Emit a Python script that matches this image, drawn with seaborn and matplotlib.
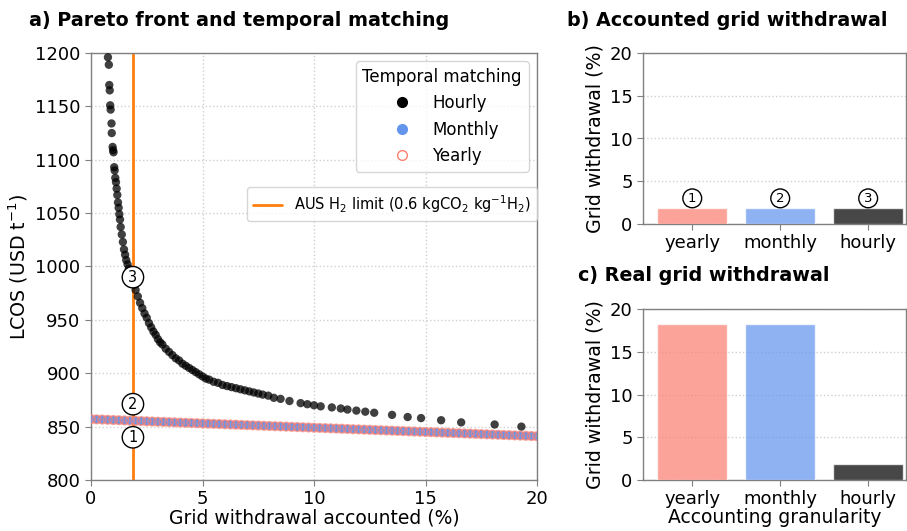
import numpy as np
import pandas as pd
import matplotlib
matplotlib.use('Agg')
import matplotlib.pyplot as plt
import seaborn as sns
from matplotlib.lines import Line2D

sns.set_style('ticks')
plt.rcParams['font.family'] = ['DejaVu Sans']
plt.rcParams['font.size'] = 13
plt.rcParams['text.color'] = 'black'
plt.rcParams['axes.labelcolor'] = 'black'
plt.rcParams['xtick.labelcolor'] = 'black'
plt.rcParams['ytick.labelcolor'] = 'black'

# Pareto front, hourly matching (grid withdrawal %, LCOS USD/t)
hourly_x = [0.76, 0.80, 0.82, 0.84, 0.86, 0.88, 0.92, 0.93, 0.97, 0.99, 1.01, 1.04, 1.06,
            1.09, 1.12, 1.15, 1.18, 1.21, 1.24, 1.27, 1.30, 1.33, 1.38, 1.43, 1.48, 1.53,
            1.58, 1.64, 1.70, 1.76, 1.82, 1.88, 1.95, 2.0, 2.1, 2.2, 2.3, 2.4, 2.5, 2.6,
            2.7, 2.8, 2.9, 3.0, 3.1, 3.2, 3.35, 3.5, 3.65, 3.8, 3.95, 4.1, 4.25, 4.4, 4.55,
            4.7, 4.85, 5.0, 5.15, 5.3, 5.5, 5.7, 5.9, 6.1, 6.3, 6.5, 6.7, 6.9, 7.1, 7.3,
            7.5, 7.7, 7.95, 8.2, 8.5, 8.9, 9.4, 9.7, 10.0, 10.3, 10.8, 11.2, 11.5, 11.9,
            12.3, 12.7, 13.5, 14.2, 14.8, 15.7, 16.6, 18.1, 19.3]
hourly_y = [1196, 1189, 1170, 1165, 1151, 1147, 1134, 1125, 1112, 1109, 1107, 1093, 1090,
            1083, 1079, 1073, 1067, 1060, 1055, 1049, 1044, 1037, 1030, 1023, 1016, 1011,
            1006, 1002, 998, 995, 992, 990, 983, 978, 972, 966, 961, 956, 952, 947,
            943, 939, 936, 932, 929, 927, 923, 920, 917, 914, 912, 909, 907, 905, 903,
            901, 899, 897, 895, 894, 892, 891, 889, 888, 887, 886, 885, 884, 883, 882,
            881, 880, 879, 877, 876, 874, 872, 871, 870, 869, 868, 867, 866, 865,
            864, 863, 861, 859, 858, 856, 854, 852, 850]

# monthly and yearly matching lie on the same line
monthly_x = [0.0, 0.25, 0.5, 0.75, 1.0, 1.25, 1.5, 1.75, 2.0, 2.25, 2.5, 2.75, 3.0, 3.25,
             3.5, 3.75, 4.0, 4.25, 4.5, 4.75, 5.0, 5.25, 5.5, 5.75, 6.0, 6.25, 6.5, 6.75,
             7.0, 7.25, 7.5, 7.75, 8.0, 8.25, 8.5, 8.75, 9.0, 9.25, 9.5, 9.75, 10.0, 10.25,
             10.5, 10.75, 11.0, 11.25, 11.5, 11.75, 12.0, 12.25, 12.5, 12.75, 13.0, 13.25,
             13.5, 13.75, 14.0, 14.25, 14.5, 14.75, 15.0, 15.25, 15.5, 15.75, 16.0, 16.25,
             16.5, 16.75, 17.0, 17.25, 17.5, 17.75, 18.0, 18.25, 18.5, 18.75, 19.0, 19.25,
             19.5, 19.75, 20.0]
monthly_y = [857.0, 856.8, 856.6, 856.4, 856.2, 856.0, 855.8, 855.6, 855.4, 855.2, 855.0,
             854.8, 854.6, 854.4, 854.2, 854.0, 853.8, 853.6, 853.4, 853.2, 853.0, 852.8,
             852.6, 852.4, 852.2, 852.0, 851.8, 851.6, 851.4, 851.2, 851.0, 850.8, 850.6,
             850.4, 850.2, 850.0, 849.8, 849.6, 849.4, 849.2, 849.0, 848.8, 848.6, 848.4,
             848.2, 848.0, 847.8, 847.6, 847.4, 847.2, 847.0, 846.8, 846.6, 846.4, 846.2,
             846.0, 845.8, 845.6, 845.4, 845.2, 845.0, 844.8, 844.6, 844.4, 844.2, 844.0,
             843.8, 843.6, 843.4, 843.2, 843.0, 842.8, 842.6, 842.4, 842.2, 842.0, 841.8,
             841.6, 841.4, 841.2, 841.0]
yearly_x = list(monthly_x)
yearly_y = list(monthly_y)

aus_limit = 1.88
picked_x = [1.88, 1.88, 1.88]
picked_y = [840, 871, 990]
picked_lab = ['1', '2', '3']

granularity = ['yearly', 'monthly', 'hourly']
accounted = [1.9, 1.9, 1.9]
real = [18.2, 18.2, 1.9]
bar_colors = ['salmon', 'cornflowerblue', 'black']

circ = dict(boxstyle='circle,pad=0.22', fc='white', ec='black', lw=1)
spine_col = '#808080'

fig = plt.figure(figsize=(9.07, 5.31), dpi=100)
ax_a = fig.add_axes([91/907, 51/531, 446/907, 427/531])
ax_b = fig.add_axes([643/907, 307/531, 263/907, 171/531])
ax_c = fig.add_axes([643/907, 51/531, 263/907, 171/531])

## a) Pareto front

sns.scatterplot(x=hourly_x, y=hourly_y, color='black', alpha=0.75, s=36,
                edgecolor='none', ax=ax_a, zorder=3)
sns.scatterplot(x=monthly_x, y=monthly_y, color='cornflowerblue', s=36,
                edgecolor='none', ax=ax_a, zorder=3)
sns.scatterplot(x=yearly_x, y=yearly_y, facecolor='none', edgecolor='salmon',
                linewidth=1.3, alpha=0.7, s=36, ax=ax_a, zorder=4)
ax_a.axvline(aus_limit, color='#ff7f0e', lw=2, zorder=2)

for x, y, t in zip(picked_x, picked_y, picked_lab):
    ax_a.text(x, y, t, ha='center', va='center', fontsize=10.5, bbox=circ, zorder=6)

ax_a.set_xlim(0, 20)
ax_a.set_ylim(800, 1200)
ax_a.set_xticks([0, 5, 10, 15, 20])
ax_a.set_yticks(np.arange(800, 1201, 50))
ax_a.set_xlabel('Grid withdrawal accounted (%)', fontsize=13.5, labelpad=0)
ax_a.set_ylabel('LCOS (USD t$^{-1}$)', fontsize=13.7)
ax_a.grid(True, color='#d0d0d0', ls=':', lw=1)

handles = [Line2D([], [], marker='o', ls='', color='black', markersize=7),
           Line2D([], [], marker='o', ls='', color='cornflowerblue', markersize=7),
           Line2D([], [], marker='o', ls='', mfc='none', mec='salmon', markersize=7)]
leg1 = ax_a.legend(handles, ['Hourly', 'Monthly', 'Yearly'], title='Temporal matching',
                   loc='upper right', fontsize=12, title_fontsize=12)
ax_a.add_artist(leg1)
ax_a.legend([Line2D([], [], color='#ff7f0e', lw=2)],
            ['AUS H$_2$ limit (0.6 kgCO$_2$ kg$^{-1}$H$_2$)'],
            loc='center right', bbox_to_anchor=(1.0, 0.646), borderaxespad=0,
            fontsize=10.5)

## b) and c) bar panels

df_b = pd.DataFrame({'granularity': granularity, 'withdrawal': accounted})
df_c = pd.DataFrame({'granularity': granularity, 'withdrawal': real})

for ax, df in [(ax_b, df_b), (ax_c, df_c)]:
    sns.barplot(data=df, x='granularity', y='withdrawal', hue='granularity',
                palette=bar_colors, alpha=0.72, saturation=1, legend=False, ax=ax, zorder=3)
    ax.set_ylim(0, 20)
    ax.set_xlim(-0.56, 2.43)
    ax.set_yticks([0, 5, 10, 15, 20])
    ax.set_ylabel('Grid withdrawal (%)', fontsize=13.7)
    ax.grid(True, axis='y', color='#d0d0d0', ls=':', lw=1)

for i, t in enumerate(picked_lab):
    ax_b.text(i, 3.0, t, ha='center', va='center', fontsize=9.5, bbox=circ, zorder=6)

ax_b.set_xlabel('')
ax_c.set_xlabel('Accounting granularity', fontsize=13.5, labelpad=0)

for ax in [ax_a, ax_b, ax_c]:
    ax.tick_params(labelsize=13, length=4, color=spine_col)
    for sp in ax.spines.values():
        sp.set_color(spine_col)
        sp.set_linewidth(1)

fig.text(29/907, 1 - 26/531, 'a) Pareto front and temporal matching',
         fontsize=13.8, fontweight='bold', va='baseline')
fig.text(567/907, 1 - 26/531, 'b) Accounted grid withdrawal',
         fontsize=13.8, fontweight='bold', va='baseline')
fig.text(578/907, 1 - 281/531, 'c) Real grid withdrawal',
         fontsize=13.8, fontweight='bold', va='baseline')

fig.savefig('out.png', dpi=100)
